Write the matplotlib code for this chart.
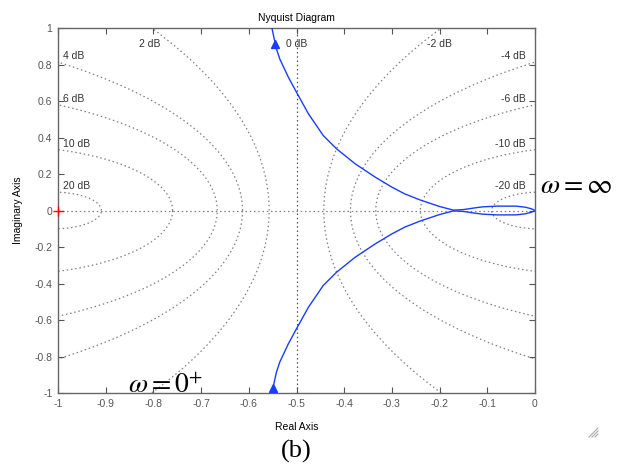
import numpy as np
import matplotlib
matplotlib.use("Agg")
import matplotlib.pyplot as plt

# ---- data ----
db_levels = [20, 10, 6, 4, 2, -2, -4, -6, -10, -20]
# positive-frequency branch (omega = 0+ -> inf)
re_pos = [-0.553, -0.549, -0.542, -0.535, -0.517, -0.500, -0.475, -0.444, -0.416,
          -0.377, -0.335, -0.300, -0.273, -0.241, -0.200, -0.171, -0.150, -0.130,
          -0.110, -0.080, -0.040, -0.020, -0.007, 0.0]
im_pos = [-1.02, -0.968, -0.885, -0.830, -0.730, -0.648, -0.530, -0.411, -0.338,
          -0.256, -0.183, -0.128, -0.091, -0.058, -0.022, -0.002, -0.005, -0.013,
          -0.020, -0.024, -0.024, -0.018, -0.009, 0.0]
arrow_pts_re = [-0.545, -0.549]
arrow_pts_im = [0.915, -0.972]
xticks = [-1, -0.9, -0.8, -0.7, -0.6, -0.5, -0.4, -0.3, -0.2, -0.1, 0]
yticks = [-1, -0.8, -0.6, -0.4, -0.2, 0, 0.2, 0.4, 0.6, 0.8, 1]

plt.rcParams['font.family'] = ['Liberation Sans', 'DejaVu Sans']
plt.rcParams['mathtext.fontset'] = 'stix'

fig = plt.figure(figsize=(6.32, 4.70), dpi=100)
ax = fig.add_axes([0.0918, 0.1638, 0.7547, 0.7766])
ax.set_xlim(-1, 0)
ax.set_ylim(-1, 1)

grid_col = '#808080'
lab_col = '#333333'
ls = (0, (1.2, 2.2))
t = np.linspace(0, 2 * np.pi, 721)
for db in db_levels:
    M = 10 ** (db / 20.0)
    c = -M ** 2 / (M ** 2 - 1)
    r = abs(M / (M ** 2 - 1))
    ax.plot(c + r * np.cos(t), r * np.sin(t), color=grid_col, lw=0.9, ls=ls, zorder=1)
    if db in (2, -2):
        xc = c + np.sqrt(r ** 2 - 1) if db > 0 else c - np.sqrt(r ** 2 - 1)
        ax.text(xc - 0.005, 0.94, f'{db} dB', ha='center', va='top', fontsize=7.5, color=lab_col)
    elif db > 0:
        yc = np.sqrt(r ** 2 - (-1 - c) ** 2)
        ax.text(-0.99, yc + 0.005, f'{db} dB', ha='left', va='bottom', fontsize=7.5, color=lab_col)
    else:
        yc = np.sqrt(r ** 2 - (0 - c) ** 2)
        ax.text(-0.02, yc + 0.005, f'{db} dB', ha='right', va='bottom', fontsize=7.5, color=lab_col)

# 0 dB line and real axis
ax.axvline(-0.5, color='#555555', lw=0.9, ls=ls, zorder=1)
ax.axhline(0, color=grid_col, lw=0.9, ls=ls, zorder=1)
ax.text(-0.5, 0.94, '0 dB', ha='center', va='top', fontsize=7.5, color=lab_col)

# Nyquist curve
re = np.array(re_pos)
im = np.array(im_pos)
blue = '#1a3cff'
ax.plot(re, im, color=blue, lw=1.0, zorder=3, solid_joinstyle='round')
ax.plot(re, -im, color=blue, lw=1.0, zorder=3, solid_joinstyle='round')
ax.plot(arrow_pts_re, arrow_pts_im, ls='none', marker='^', ms=6, color=blue, zorder=4)
ax.plot([-1], [0], marker='+', color='red', ms=7, mew=1.0, clip_on=False, zorder=5)

ax.set_xticks(xticks)
ax.set_yticks(yticks)
ax.set_xticklabels([f'{v:g}' for v in xticks])
ax.set_yticklabels([f'{v:g}' for v in yticks])
ax.tick_params(direction='in', top=True, right=True, length=4, width=0.8,
               labelsize=7.5, colors='#555555', pad=4)
for s in ax.spines.values():
    s.set_color('#666666')
    s.set_linewidth(1.0)

ax.set_title('Nyquist Diagram', fontsize=7.5, pad=5)
ax.set_xlabel('Real Axis', fontsize=7.5, labelpad=10)
ax.set_ylabel('Imaginary Axis', fontsize=7.5, labelpad=8)

fig.text(0.855, 0.605, r'$\omega = \infty$', fontsize=20, ha='left', va='center')
fig.text(0.203, 0.178, r'$\omega = 0^{+}$', fontsize=20, ha='left', va='center')
fig.text(0.468, 0.04, '(b)', fontsize=19, ha='center', va='center', family='Liberation Serif')

# resize grip decoration
for k in range(3):
    o = 3 * (k + 1)
    fig.add_artist(plt.Line2D([(598 - o) / 632, 598 / 632], [1 - 437 / 470, 1 - (437 - o) / 470],
                              color='#aaaaaa', lw=0.8))

fig.savefig('out.png', dpi=100)
